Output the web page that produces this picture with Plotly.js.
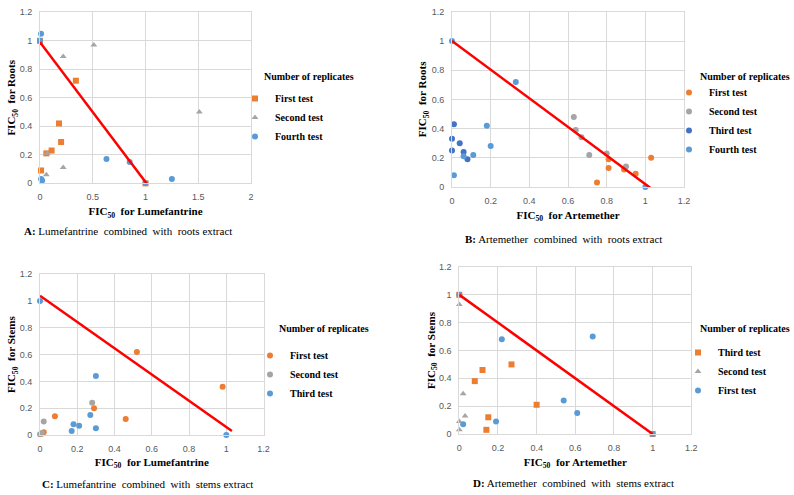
<!DOCTYPE html>
<html>
<head>
<meta charset="utf-8">
<script src="https://cdn.plot.ly/plotly-3.0.1.min.js"></script>
<style>html,body{margin:0;padding:0;background:#fff;}#chart{width:794px;height:495px;}</style>
</head>
<body>
<div id="chart"></div>
<script>
// ---------- Data ----------
// Panel A: Lumefantrine + roots extract
const aFirstX  = [0, 0.01, 0.06, 0.11, 0.18, 0.20, 0.34, 1.0];
const aFirstY  = [1.0, 0.09, 0.21, 0.23, 0.42, 0.29, 0.72, 0];
const aSecondX = [0.07, 0.06, 0.22, 0.22, 0.51, 1.51];
const aSecondY = [0.21, 0.06, 0.11, 0.89, 0.97, 0.50];
const aFourthX = [0, 0.01, 0.01, 0.02, 0.63, 0.85, 1.0, 1.25];
const aFourthY = [1.0, 1.05, 0.03, 0.02, 0.17, 0.15, 0, 0.03];
const aLineX = [0, 1.04];
const aLineY = [0.99, -0.03];

// Panel B: Artemether + roots extract
const bFirstX  = [0.75, 0.81, 0.81, 0.89, 0.95, 1.03];
const bFirstY  = [0.03, 0.13, 0.19, 0.12, 0.09, 0.20];
const bSecondX = [0.63, 0.64, 0.67, 0.71, 0.80, 0.90];
const bSecondY = [0.48, 0.39, 0.34, 0.22, 0.23, 0.14];
const bThirdX  = [0, 0.01, 0, 0.04, 0.06, 0.08];
const bThirdY  = [0.33, 0.43, 0.25, 0.30, 0.24, 0.19];
const bFourthX = [0, 0.01, 0.06, 0.11, 0.18, 0.20, 0.33, 1.0];
const bFourthY = [1.0, 0.08, 0.21, 0.22, 0.42, 0.28, 0.72, 0];
const bLineX = [0, 1.03];
const bLineY = [1.0, -0.01];

// Panel C: Lumefantrine + stems extract
const cFirstX  = [0.01, 0.02, 0.08, 0.29, 0.46, 0.52, 0.98];
const cFirstY  = [0.01, 0.02, 0.14, 0.20, 0.12, 0.62, 0.36];
const cSecondX = [0, 0.01, 0.02, 0.28];
const cSecondY = [0.005, 0.015, 0.10, 0.24];
const cThirdX  = [0, 0.17, 0.18, 0.21, 0.27, 0.30, 0.30, 1.0];
const cThirdY  = [1.0, 0.03, 0.08, 0.07, 0.15, 0.44, 0.05, 0];
const cLineX = [0, 1.03];
const cLineY = [1.04, 0.03];

// Panel D: Artemether + stems extract
const dThirdX  = [0, 0.08, 0.12, 0.27, 0.40, 0.15, 0.14, 1.0];
const dThirdY  = [1.0, 0.38, 0.46, 0.50, 0.21, 0.12, 0.03, 0];
const dSecondX = [0, 0.02, 0.03, 0, 0];
const dSecondY = [0.93, 0.29, 0.13, 0.09, 0.03];
const dFirstX  = [0, 0.02, 0.19, 0.22, 0.54, 0.61, 0.69, 1.0];
const dFirstY  = [1.0, 0.07, 0.09, 0.68, 0.24, 0.15, 0.70, 0];
const dLineX = [0, 1.0];
const dLineY = [1.0, 0];

const legendTitle = "Number of replicates";
const xTitles = ["FIC<sub>50</sub>\u00A0 for Lumefantrine", "FIC<sub>50</sub>\u00A0 for Artemether",
                 "FIC<sub>50</sub>\u00A0 for Lumefantrine", "FIC<sub>50</sub>\u00A0 for Artemether"];
const yTitles = ["FIC<sub>50</sub>\u00A0 for Roots", "FIC<sub>50</sub>\u00A0 for Roots",
                 "FIC<sub>50</sub>\u00A0 for Stems", "FIC<sub>50</sub>\u00A0 for Stems"];
const captions = {
  A: ["A:", "Lumefantrine\u00A0 combined\u00A0 with\u00A0 roots extract"],
  B: ["B:", "Artemether\u00A0 combined\u00A0 with\u00A0 roots extract"],
  C: ["C:", "Lumefantrine\u00A0 combined\u00A0 with\u00A0 stems extract"],
  D: ["D:", "Artemether\u00A0 combined\u00A0 with\u00A0 stems extract"]
};

// ---------- Styles ----------
const ORANGE = "#ED7D31", GRAY = "#A5A5A5", LBLUE = "#5B9BD5", DBLUE = "#4472C4", RED = "#FF0000";
const W = 794, H = 495;
const px = v => v / W;
const py = v => 1 - v / H;

function pts(x, y, name, color, symbol, xa, ya, leg) {
  return {x: x, y: y, type: "scatter", mode: "markers", name: name,
    xaxis: xa, yaxis: ya, legend: leg, cliponaxis: false,
    marker: {color: color, symbol: symbol, size: 6}};
}
function redLine(x, y, xa, ya) {
  return {x: x, y: y, type: "scatter", mode: "lines", showlegend: false,
    xaxis: xa, yaxis: ya, line: {color: RED, width: 2.5}, hoverinfo: "skip"};
}

const data = [
  pts(aFirstX, aFirstY, "First test", ORANGE, "square", "x", "y", "legend"),
  pts(aSecondX, aSecondY, "Second test", GRAY, "triangle-up", "x", "y", "legend"),
  pts(aFourthX, aFourthY, "Fourth test", LBLUE, "circle", "x", "y", "legend"),
  redLine(aLineX, aLineY, "x", "y"),

  pts(bFirstX, bFirstY, "First test", ORANGE, "circle", "x2", "y2", "legend2"),
  pts(bSecondX, bSecondY, "Second test", GRAY, "circle", "x2", "y2", "legend2"),
  pts(bThirdX, bThirdY, "Third test", DBLUE, "circle", "x2", "y2", "legend2"),
  pts(bFourthX, bFourthY, "Fourth test", LBLUE, "circle", "x2", "y2", "legend2"),
  redLine(bLineX, bLineY, "x2", "y2"),

  pts(cFirstX, cFirstY, "First test", ORANGE, "circle", "x3", "y3", "legend3"),
  pts(cSecondX, cSecondY, "Second test", GRAY, "circle", "x3", "y3", "legend3"),
  pts(cThirdX, cThirdY, "Third test", LBLUE, "circle", "x3", "y3", "legend3"),
  redLine(cLineX, cLineY, "x3", "y3"),

  pts(dThirdX, dThirdY, "Third test", ORANGE, "square", "x4", "y4", "legend4"),
  pts(dSecondX, dSecondY, "Second test", GRAY, "triangle-up", "x4", "y4", "legend4"),
  pts(dFirstX, dFirstY, "First test", LBLUE, "circle", "x4", "y4", "legend4"),
  redLine(dLineX, dLineY, "x4", "y4")
];

const serif = "Liberation Serif, Times New Roman, serif";
const titleFont = {family: serif, size: 11, color: "#000", weight: "bold"};
const legFont = {family: serif, size: 10, color: "#000", weight: "bold"};
const capFont = {family: serif, size: 11, color: "#000"};
const tickFont = {family: "Liberation Sans, Arial, sans-serif", size: 9, color: "#595959"};

function axis(domain, range, dtick, anchor, title, standoff) {
  return {domain: domain, range: range, dtick: dtick, tick0: 0, anchor: anchor,
    showgrid: true, gridcolor: "#D9D9D9", gridwidth: 1,
    zeroline: false, showline: true, mirror: true, linecolor: "#D9D9D9", linewidth: 1,
    ticks: "", ticklabelstandoff: 5, tickfont: tickFont, fixedrange: true,
    title: {text: title, font: titleFont, standoff: standoff}};
}

function legend(xPx, topPx) {
  return {x: px(xPx), y: py(topPx), xanchor: "left", yanchor: "top",
    bgcolor: "rgba(0,0,0,0)", borderwidth: 0, font: legFont};
}

const ann = [];
function addText(text, xPx, yPx, opts) {
  ann.push(Object.assign({text: text, x: px(xPx), y: py(yPx), xref: "paper", yref: "paper",
    showarrow: false, xanchor: "center", yanchor: "middle", font: capFont}, opts || {}));
}
// captions
addText("<b>" + captions.A[0] + "</b> " + captions.A[1], 128, 231);
addText("<b>" + captions.B[0] + "</b> " + captions.B[1], 563, 239);
addText("<b>" + captions.C[0] + "</b> " + captions.C[1], 147, 484);
addText("<b>" + captions.D[0] + "</b> " + captions.D[1], 573, 483);
// legend titles
addText(legendTitle, 262, 76, {xanchor: "left", font: legFont});
addText(legendTitle, 698, 76, {xanchor: "left", font: legFont});
addText(legendTitle, 277, 328, {xanchor: "left", font: legFont});
addText(legendTitle, 698, 328, {xanchor: "left", font: legFont});

const layout = {
  width: W, height: H,
  margin: {l: 0, r: 0, t: 0, b: 0},
  paper_bgcolor: "#fff", plot_bgcolor: "#fff",
  showlegend: true,
  xaxis:  axis([px(40), px(251)], [0, 2], 0.5, "y", xTitles[0], 6),
  yaxis:  axis([py(183.3), py(12.3)], [0, 1.2], 0.2, "x", yTitles[0], 1),
  xaxis2: axis([px(452), px(684)], [0, 1.2], 0.2, "y2", xTitles[1], 6),
  yaxis2: axis([py(187), py(11.8)], [0, 1.2], 0.2, "x2", yTitles[1], 2),
  xaxis3: axis([px(40), px(263.6)], [0, 1.2], 0.2, "y3", xTitles[2], 5),
  yaxis3: axis([py(435), py(274.3)], [0, 1.2], 0.2, "x3", yTitles[2], 1),
  xaxis4: axis([px(459.3), px(691.3)], [0, 1.2], 0.2, "y4", xTitles[3], 6),
  yaxis4: axis([py(434), py(267)], [0, 1.2], 0.2, "x4", yTitles[3], 1),
  legend:  legend(235, 84),
  legend2: legend(669, 78),
  legend3: legend(250, 341),
  legend4: legend(678, 338),
  annotations: ann
};

Plotly.newPlot("chart", data, layout, {staticPlot: true, displayModeBar: false});
</script>
</body>
</html>
